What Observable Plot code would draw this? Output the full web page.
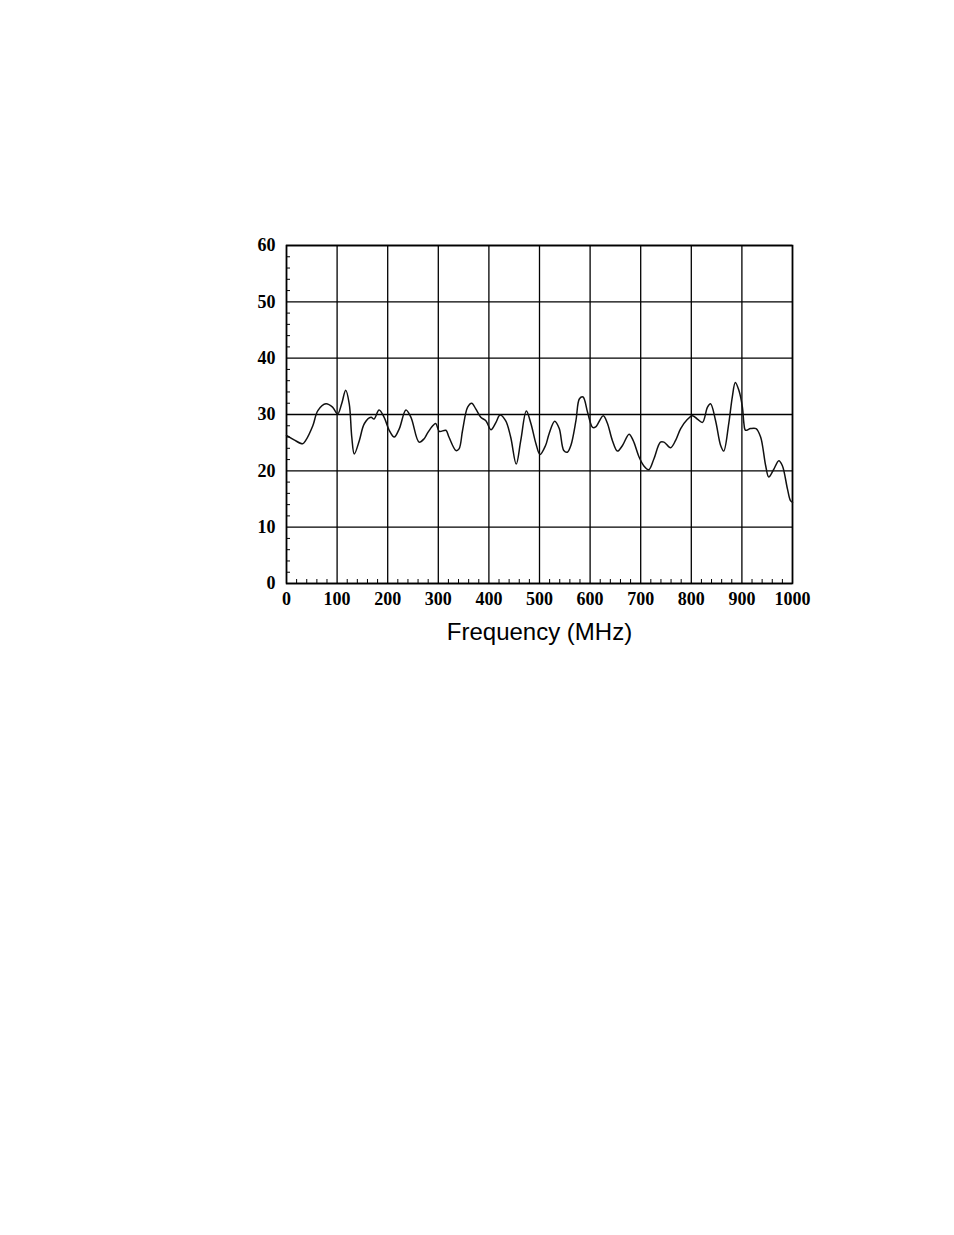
<!DOCTYPE html>
<html>
<head>
<meta charset="utf-8">
<script src="https://cdn.jsdelivr.net/npm/d3@7"></script>
<script src="https://cdn.jsdelivr.net/npm/@observablehq/plot@0.6"></script>
<style>
  html, body { margin: 0; padding: 0; background: #fff; }
  #chart svg [aria-label="x-axis label"] text {
    font-family: "Liberation Sans", Arial, sans-serif;
    font-weight: normal;
    font-size: 24px;
  }
</style>
</head>
<body>
<div id="chart"></div>
<script>
// Frequency (MHz)
const freq = [0,15,32,38,52,62,78,91,101,109,117,124,129,134,144,154,167,173,183,193,203,213,223,236,246,262,272,278,289,295,302,315,321,335,341,348,358,366,374,384,394,404,414,422,433,443,454,463,474,483,493,501,512,519,530,539,548,555,562,572,579,586,595,605,611,626,634,644,654,664,677,685,697,706,716,726,739,746,759,769,779,792,802,812,822,832,838,848,858,864,874,881,887,894,901,904,907,917,928,937,947,953,962,973,980,990,996,1000];
// Level
const level = [26.3,25.5,24.8,25.4,28.0,30.7,31.9,31.3,30.1,31.9,34.3,31.9,26.0,23.0,25.4,28.4,29.5,29.2,30.8,29.5,27.2,26.0,27.5,30.8,29.5,25.1,25.7,26.6,28.0,28.4,27.0,27.2,26.0,23.6,23.9,27.2,31.3,32.0,31.0,29.5,28.9,27.3,28.6,29.9,28.9,26.0,21.2,25.4,30.6,28.4,24.8,22.9,24.5,26.6,28.8,27.5,23.6,23.3,24.5,28.9,32.8,33.1,30.4,27.7,27.8,29.8,28.5,25.4,23.5,24.5,26.5,25.4,22.4,20.9,20.2,22.1,25.1,25.1,24.1,25.4,27.5,29.1,29.8,29.2,28.6,31.3,31.9,28.9,24.5,23.5,28.4,33.1,35.7,34.3,31.3,28.4,27.2,27.5,27.5,26.0,20.9,18.9,20.1,21.8,20.9,16.8,14.7,14.4];

const xTicks = [0,100,200,300,400,500,600,700,800,900,1000];
const yTicks = [0,10,20,30,40,50,60];
const xMinor = [20,40,60,80,120,140,160,180,220,240,260,280,320,340,360,380,420,440,460,480,520,540,560,580,620,640,660,680,720,740,760,780,820,840,860,880,920,940,960,980];
const yMinor = [2,4,6,8,12,14,16,18,22,24,26,28,32,34,36,38,42,44,46,48,52,54,56,58];

const data = freq.map((f, i) => ({f, v: level[i]}));

const chart = Plot.plot({
  width: 954,
  height: 660,
  marginLeft: 286,
  marginRight: 162,
  marginTop: 245,
  marginBottom: 77,
  style: {fontFamily: "'Liberation Serif', 'Times New Roman', serif", fontWeight: "bold", fontSize: "18px", color: "#000", background: "#fff"},
  x: {domain: [0, 1000]},
  y: {domain: [0, 60]},
  marks: [
    Plot.gridX(xTicks, {stroke: "#000", strokeOpacity: 1, strokeWidth: 1.3}),
    Plot.gridY(yTicks, {stroke: "#000", strokeOpacity: 1, strokeWidth: 1.3}),
    Plot.frame({stroke: "#000", strokeWidth: 1.6}),
    Plot.line(data, {x: "f", y: "v", stroke: "#111", strokeWidth: 1.5, curve: "catmull-rom"}),
    Plot.axisX(xMinor, {tickSize: -4, tickFormat: () => "", label: null, stroke: "#000"}),
    Plot.axisY(yMinor, {tickSize: -4, tickFormat: () => "", label: null, stroke: "#000"}),
    Plot.axisX(xTicks, {tickSize: 0, tickPadding: 9, tickFormat: d3.format("d"), label: "Frequency (MHz)", labelAnchor: "center", labelArrow: "none", labelOffset: 56}),
    Plot.axisY(yTicks, {tickSize: 0, tickPadding: 11, tickFormat: d3.format("d"), label: null})
  ]
});
document.getElementById("chart").appendChild(chart);
</script>
</body>
</html>
